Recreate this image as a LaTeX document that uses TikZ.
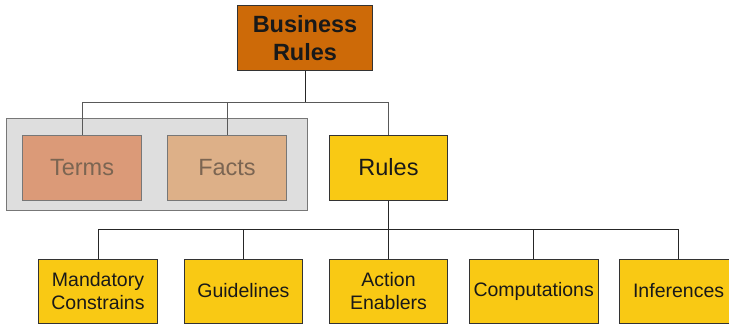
\documentclass[tikz,border=0pt]{standalone}
\usepackage{fontspec}
\setmainfont{Liberation Sans}
\definecolor{brown1}{HTML}{CD6A08}
\definecolor{yel}{HTML}{F9C914}
\definecolor{termc}{HTML}{DB9A78}
\definecolor{factc}{HTML}{DDB088}
\definecolor{grayfill}{HTML}{DEDEDE}
\definecolor{mutetext}{HTML}{7B6552}
\definecolor{darkb}{HTML}{333333}
\definecolor{midb}{HTML}{777777}
\tikzset{
  x=1pt,y=1pt,
  box/.style={draw=darkb, line width=1pt, inner sep=0pt, align=center, text=black!90},
  topbox/.style={box, minimum height=65pt, font=\fontsize{23.5}{28}\selectfont},
  botbox/.style={box, fill=yel, minimum height=64pt, minimum width=118.6pt, font=\fontsize{19.5}{23.3}\selectfont},
  mutebox/.style={box, draw=midb, minimum width=118.6pt, minimum height=65pt, text=mutetext, font=\fontsize{23.5}{28}\selectfont},
  conn/.style={line width=1pt, draw=black!85},
  connlight/.style={line width=1pt, draw=black!65},
}
\begin{document}
\begin{tikzpicture}
\useasboundingbox (0,0) rectangle (729,-324);
% top
\node[topbox, fill=brown1, minimum width=134.6pt, font=\fontsize{23.5}{28}\selectfont\bfseries] (br) at (305,-37.8) {Business\\Rules};
% group
\node[draw=midb, fill=grayfill, line width=1pt, minimum width=301pt, minimum height=91.6pt, inner sep=0pt] (grp) at (157.2,-164.5) {};
\node[mutebox, fill=termc] (terms) at (82,-167.5) {Terms};
\node[mutebox, fill=factc] (facts) at (227,-167.5) {Facts};
\node[topbox, fill=yel, minimum width=118.4pt] (rules) at (388.5,-167.5) {Rules};
% bottom row
\node[botbox] (mand) at (98,-291) {Mandatory\\Constrains};
\node[botbox] (guide) at (243.4,-291) {Guidelines};
\node[botbox, minimum width=118.4pt] (act) at (388.5,-291) {Action\\Enablers};
\node[botbox, minimum width=129pt] (comp) at (533.7,-291) {Computations};
\node[botbox] (inf) at (678.6,-291) {Inferences};
% connectors
\coordinate (bus1) at (0,-102.3);
\coordinate (bus2) at (0,-229.3);
\draw[conn] (br.south) -- (br.south |- bus1);
\draw[connlight] (terms.north) -- (terms.north |- bus1) -| (rules.north);
\draw[connlight] (facts.north) -- (facts.north |- bus1);
\draw[conn] (rules.south) -- (rules.south |- bus2);
\draw[conn] (mand.north) -- (mand.north |- bus2) -| (inf.north);
\draw[conn] (guide.north) -- (guide.north |- bus2);
\draw[conn] (act.north) -- (act.north |- bus2);
\draw[conn] (comp.north) -- (comp.north |- bus2);
\end{tikzpicture}
\end{document}
